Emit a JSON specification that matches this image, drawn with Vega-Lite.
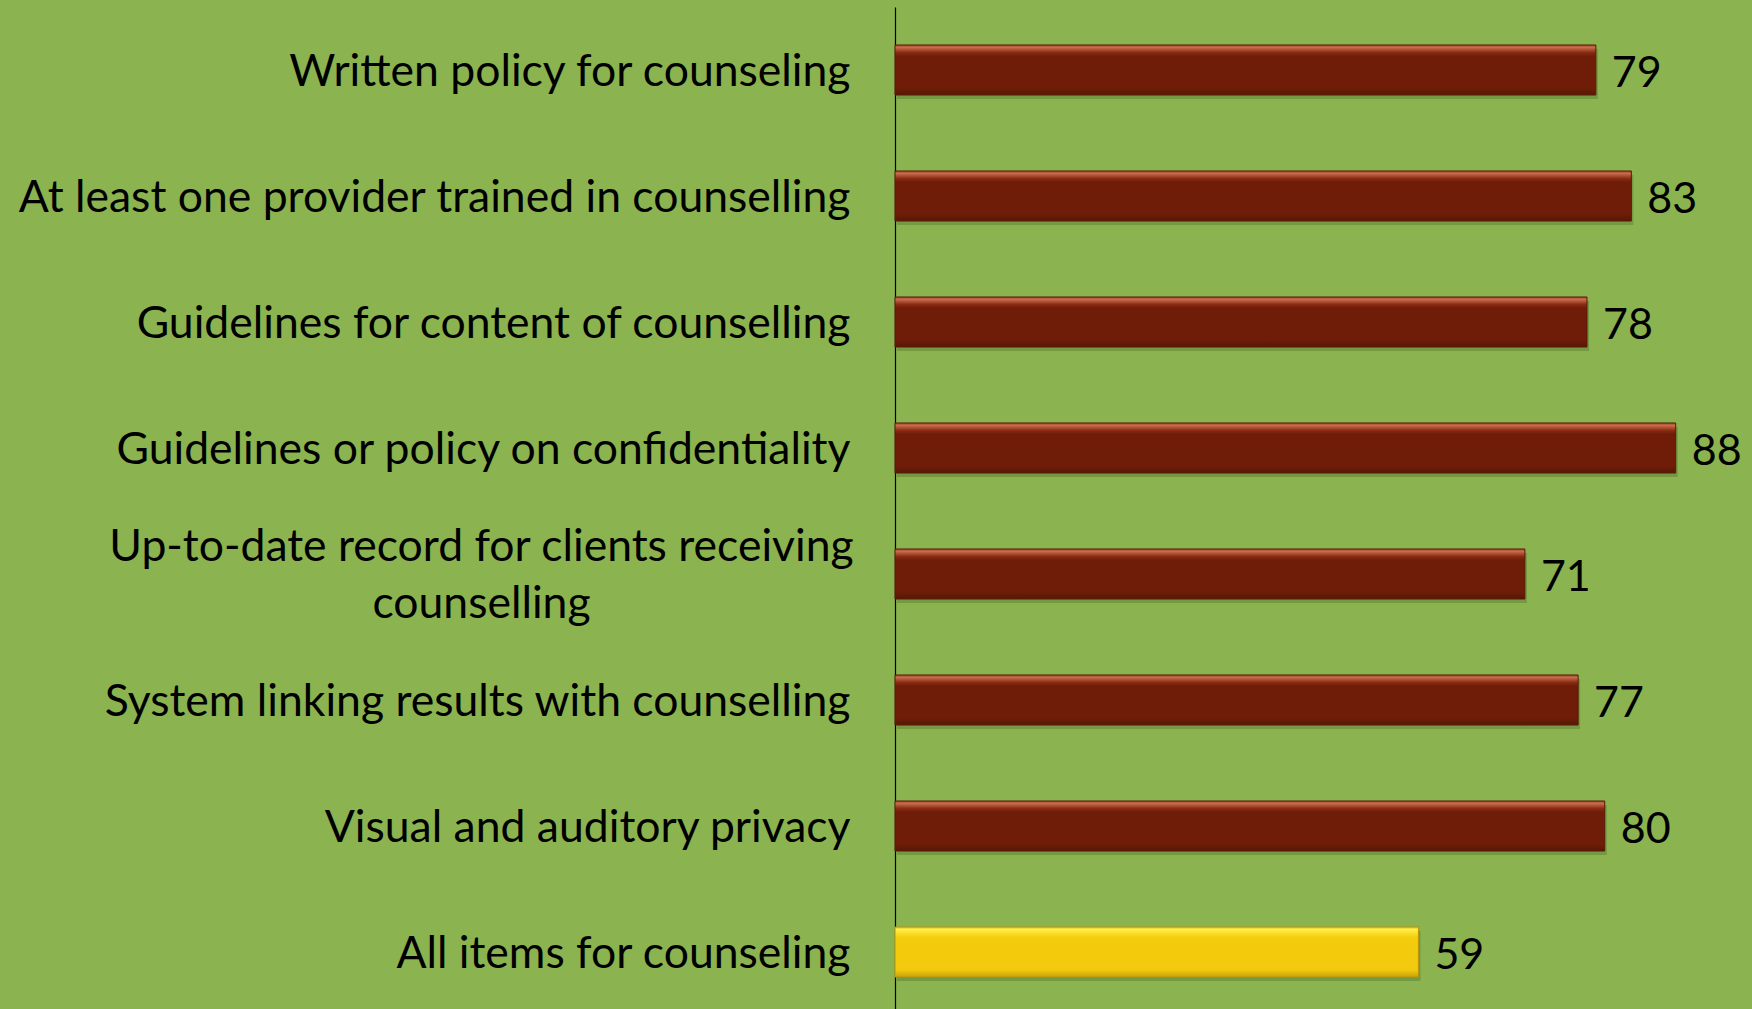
{
  "$schema": "https://vega.github.io/schema/vega-lite/v6.json",
  "width": 857,
  "height": 1008,
  "autosize": "none",
  "padding": {"left": 895, "top": 7, "right": 0, "bottom": 0},
  "background": "#8BB34F",
  "config": {"view": {"stroke": null}},
  "data": {
    "values": [
      {"item": "Written policy for counseling", "value": 79, "group": "item"},
      {"item": "At least one provider trained in counselling", "value": 83, "group": "item"},
      {"item": "Guidelines for content of counselling", "value": 78, "group": "item"},
      {"item": "Guidelines or policy on confidentiality", "value": 88, "group": "item"},
      {"item": "Up-to-date record for clients receiving counselling", "value": 71, "group": "item"},
      {"item": "System linking results with counselling", "value": 77, "group": "item"},
      {"item": "Visual and auditory privacy", "value": 80, "group": "item"},
      {"item": "All items for counseling", "value": 59, "group": "all"}
    ]
  },
  "encoding": {
    "y": {
      "field": "item",
      "type": "nominal",
      "sort": null,
      "scale": {"paddingInner": 0.603, "paddingOuter": 0.3015},
      "axis": {
        "title": null,
        "domainColor": "#000000",
        "domainWidth": 1.2,
        "ticks": false,
        "tickSize": 0,
        "labelFont": "Lato",
        "labelFontSize": 44.5,
        "labelColor": "#000000",
        "labelLimit": 0,
        "labelLineHeight": 57,
        "labelBaseline": "middle",
        "labelExpr": "indexof(datum.value, 'Up-to-date') == 0 ? ['Up-to-date record for clients receiving', 'counselling'] : datum.value",
        "labelAlign": {"condition": {"test": "indexof(datum.value, 'Up-to-date') == 0", "value": "center"}, "value": "right"},
        "labelPadding": {"condition": {"test": "indexof(datum.value, 'Up-to-date') == 0", "value": 414}, "value": 45},
        "labelOffset": {"condition": {"test": "indexof(datum.value, 'Up-to-date') == 0", "value": -26}, "value": 3}
      }
    },
    "x": {
      "field": "value",
      "type": "quantitative",
      "scale": {"domain": [0, 96.6], "nice": false},
      "axis": null
    }
  },
  "layer": [
    {
      "mark": {"type": "bar", "color": "#2E4A12", "opacity": 0.25, "yOffset": 4, "xOffset": 2}
    },
    {
      "transform": [{"filter": "datum.group == 'item'"}],
      "mark": {
        "type": "bar",
        "stroke": "#5A1A08",
        "strokeWidth": 1,
        "color": {
          "gradient": "linear", "x1": 0, "y1": 0, "x2": 0, "y2": 1,
          "stops": [
            {"offset": 0, "color": "#A6472A"},
            {"offset": 0.05, "color": "#C86A4C"},
            {"offset": 0.15, "color": "#8A2C12"},
            {"offset": 0.22, "color": "#6F1D08"},
            {"offset": 0.86, "color": "#6F1D08"},
            {"offset": 1, "color": "#561806"}
          ]
        }
      }
    },
    {
      "transform": [{"filter": "datum.group == 'all'"}],
      "mark": {
        "type": "bar",
        "stroke": "#B8960C",
        "strokeWidth": 1,
        "color": {
          "gradient": "linear", "x1": 0, "y1": 0, "x2": 0, "y2": 1,
          "stops": [
            {"offset": 0, "color": "#E8C010"},
            {"offset": 0.05, "color": "#FFF050"},
            {"offset": 0.15, "color": "#F8D820"},
            {"offset": 0.22, "color": "#F4CC0C"},
            {"offset": 0.86, "color": "#F2C90C"},
            {"offset": 1, "color": "#C9A20E"}
          ]
        }
      }
    },
    {
      "mark": {"type": "text", "align": "left", "baseline": "middle", "dx": 16, "dy": 4, "font": "Lato", "fontSize": 43, "color": "#000000"},
      "encoding": {"text": {"field": "value", "type": "quantitative"}}
    }
  ]
}
